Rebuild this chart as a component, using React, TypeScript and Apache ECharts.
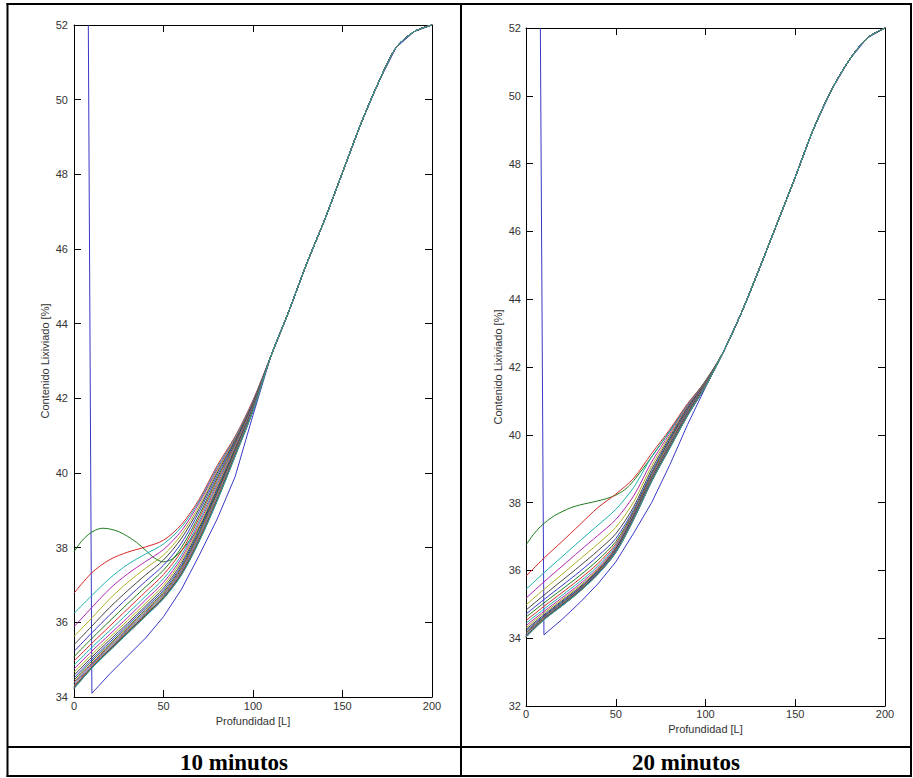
import React, { useEffect, useRef } from "react";
import * as echarts from "echarts";

// ---------- data ----------
const X_GRID = [0, 10, 20, 30, 40, 50, 60, 70, 80, 90, 100];
const TAIL_X = [110, 120, 130, 140, 150, 160, 170, 180, 190, 200];

const CAPTIONS = ["10 minutos", "20 minutos"];
const X_NAME = "Profundidad [L]";
const Y_NAME = "Contenido Lixiviado [%]";

// 10 minutos
const LEFT_TAIL = [43.13, 44.33, 45.61, 46.78, 48.05, 49.32, 50.45, 51.4, 51.82, 52.0];
const LEFT_INITIAL_X = [8, 10, 20, 30, 40, 50, 60, 70, 80, 90, 100];
const LEFT_INITIAL_Y = [52, 34.1, 34.62, 35.1, 35.58, 36.15, 36.88, 37.8, 38.77, 39.9, 41.55];
const LEFT_HUMP_X = [0, 4, 8, 12, 16, 20, 25, 30, 35, 40, 45, 50, 55, 60, 70, 80, 90, 100];
const LEFT_HUMP_Y = [37.89, 38.16, 38.35, 38.47, 38.52, 38.5, 38.43, 38.3, 38.14, 37.93, 37.72, 37.62, 37.7, 37.92, 38.55, 39.5, 40.6, 41.8];
const LEFT_FAMILY = [
  [36.78, 37.33, 37.68, 37.88, 38.02, 38.2, 38.62, 39.3, 40.2, 40.98, 41.95],
  [36.24, 36.72, 37.18, 37.55, 37.83, 38.1, 38.55, 39.25, 40.15, 40.95, 41.93],
  [35.88, 36.4, 36.9, 37.3, 37.63, 37.95, 38.45, 39.2, 40.1, 40.92, 41.92],
  [35.62, 36.12, 36.63, 37.07, 37.45, 37.8, 38.35, 39.12, 40.05, 40.9, 41.9],
  [35.4, 35.9, 36.4, 36.85, 37.27, 37.67, 38.25, 39.05, 40.0, 40.87, 41.88],
  [35.22, 35.72, 36.2, 36.66, 37.1, 37.53, 38.12, 38.97, 39.93, 40.84, 41.86],
  [35.08, 35.57, 36.04, 36.5, 36.95, 37.4, 38.0, 38.88, 39.86, 40.8, 41.84],
  [34.96, 35.44, 35.9, 36.36, 36.82, 37.28, 37.9, 38.8, 39.8, 40.77, 41.82],
  [34.85, 35.33, 35.78, 36.24, 36.7, 37.17, 37.8, 38.72, 39.74, 40.74, 41.8],
  [34.75, 35.23, 35.68, 36.13, 36.6, 37.07, 37.72, 38.65, 39.68, 40.71, 41.78],
  [34.66, 35.14, 35.6, 36.05, 36.51, 36.99, 37.65, 38.58, 39.63, 40.68, 41.76],
  [34.58, 35.07, 35.53, 35.98, 36.44, 36.92, 37.58, 38.52, 39.58, 40.65, 41.75],
  [34.51, 35.01, 35.47, 35.93, 36.39, 36.86, 37.52, 38.46, 39.53, 40.62, 41.74],
  [34.45, 34.96, 35.42, 35.88, 36.34, 36.81, 37.47, 38.41, 39.48, 40.6, 41.73],
  [34.4, 34.91, 35.38, 35.84, 36.3, 36.77, 37.43, 38.36, 39.44, 40.57, 41.72],
  [34.36, 34.88, 35.35, 35.81, 36.27, 36.74, 37.39, 38.32, 39.4, 40.55, 41.71],
  [34.32, 34.85, 35.32, 35.78, 36.24, 36.71, 37.36, 38.28, 39.36, 40.53, 41.7],
  [34.29, 34.82, 35.3, 35.76, 36.22, 36.69, 37.33, 38.25, 39.33, 40.51, 41.69],
  [34.27, 34.8, 35.28, 35.74, 36.2, 36.67, 37.31, 38.22, 39.3, 40.49, 41.68],
  [34.25, 34.79, 35.27, 35.73, 36.19, 36.66, 37.29, 38.2, 39.28, 40.47, 41.67],
  [34.24, 34.78, 35.26, 35.72, 36.18, 36.65, 37.28, 38.19, 39.27, 40.46, 41.67],
  [34.23, 34.78, 35.25, 35.71, 36.17, 36.64, 37.27, 38.18, 39.26, 40.45, 41.66],
  [34.22, 34.77, 35.24, 35.7, 36.16, 36.63, 37.26, 38.17, 39.25, 40.44, 41.66],
];

// 20 minutos
const RIGHT_TAIL = [42.45, 43.6, 44.9, 46.25, 47.6, 49.0, 50.15, 51.05, 51.7, 52.0];
const RIGHT_INITIAL_X = [8, 10, 20, 30, 40, 50, 60, 70, 80, 90, 100];
const RIGHT_INITIAL_Y = [52, 34.1, 34.55, 35.05, 35.6, 36.25, 37.1, 38.0, 39.1, 40.3, 41.4];
const RIGHT_HUMP_X = [0, 4, 8, 12, 16, 20, 25, 30, 35, 40, 45, 50, 55, 60, 70, 80, 90, 100];
const RIGHT_HUMP_Y = [36.75, 37.05, 37.29, 37.47, 37.62, 37.73, 37.85, 37.93, 37.99, 38.05, 38.12, 38.22, 38.38, 38.65, 39.35, 40.1, 40.88, 41.6];
const RIGHT_FAMILY = [
  [35.83, 36.36, 36.85, 37.35, 37.85, 38.25, 38.72, 39.45, 40.15, 40.92, 41.58],
  [35.44, 35.93, 36.4, 36.87, 37.33, 37.8, 38.45, 39.35, 40.1, 40.88, 41.57],
  [35.18, 35.66, 36.12, 36.58, 37.03, 37.5, 38.2, 39.2, 40.03, 40.85, 41.56],
  [34.98, 35.44, 35.88, 36.33, 36.78, 37.27, 38.02, 39.08, 39.97, 40.82, 41.55],
  [34.83, 35.27, 35.7, 36.13, 36.58, 37.08, 37.88, 38.98, 39.92, 40.8, 41.54],
  [34.71, 35.14, 35.55, 35.97, 36.42, 36.94, 37.8, 38.9, 39.87, 40.77, 41.53],
  [34.62, 35.04, 35.44, 35.85, 36.3, 36.85, 37.74, 38.85, 39.83, 40.74, 41.52],
  [34.52, 34.94, 35.34, 35.75, 36.2, 36.78, 37.7, 38.8, 39.79, 40.72, 41.51],
  [34.44, 34.86, 35.26, 35.67, 36.13, 36.73, 37.67, 38.77, 39.76, 40.7, 41.5],
  [34.37, 34.79, 35.19, 35.6, 36.07, 36.69, 37.65, 38.75, 39.73, 40.68, 41.49],
  [34.31, 34.74, 35.14, 35.55, 36.03, 36.66, 37.63, 38.73, 39.71, 40.66, 41.48],
  [34.26, 34.69, 35.1, 35.51, 36.0, 36.64, 37.62, 38.72, 39.69, 40.65, 41.47],
  [34.21, 34.66, 35.07, 35.48, 35.98, 36.62, 37.6, 38.71, 39.68, 40.63, 41.46],
  [34.17, 34.63, 35.04, 35.46, 35.96, 36.6, 37.58, 38.7, 39.67, 40.62, 41.46],
  [34.14, 34.61, 35.02, 35.45, 35.95, 36.59, 37.57, 38.69, 39.66, 40.61, 41.45],
  [34.11, 34.6, 35.01, 35.44, 35.94, 36.58, 37.56, 38.68, 39.65, 40.6, 41.45],
  [34.08, 34.59, 35.0, 35.43, 35.93, 36.57, 37.55, 38.67, 39.64, 40.6, 41.44],
  [34.06, 34.58, 34.99, 35.42, 35.92, 36.56, 37.54, 38.66, 39.63, 40.59, 41.44],
  [34.05, 34.57, 34.98, 35.41, 35.91, 36.55, 37.53, 38.65, 39.62, 40.58, 41.43],
  [34.04, 34.56, 34.97, 35.4, 35.9, 36.54, 37.52, 38.64, 39.61, 40.57, 41.43],
  [34.04, 34.55, 34.96, 35.39, 35.89, 36.53, 37.51, 38.63, 39.6, 40.57, 41.42],
  [34.03, 34.55, 34.95, 35.38, 35.88, 36.52, 37.5, 38.62, 39.6, 40.56, 41.42],
  [34.03, 34.54, 34.95, 35.38, 35.88, 36.52, 37.5, 38.62, 39.59, 40.56, 41.42],
];

// MATLAB-like colour order
const LINE_COLORS = ["#3838c8", "#1c7c1c", "#d82828", "#1cb0b0", "#b024b0", "#b0b024", "#444444"];

// ---------- helpers ----------
const FONT = '"Liberation Sans", Arial, sans-serif';
const LABEL_COLOR = "#333333";

function pairs(xs: number[], ys: number[]) {
  return xs.map((x, i) => [x, ys[i]]);
}

function buildSeries(
  initX: number[], initY: number[],
  humpX: number[], humpY: number[],
  family: number[][], tail: number[], axis: number
) {
  const tailPts = pairs(TAIL_X, tail);
  const base = {
    type: "line",
    xAxisIndex: axis,
    yAxisIndex: axis,
    symbol: "none",
    silent: true,
    animation: false,
    clip: true,
  };
  const out: any[] = [];
  out.push({
    ...base,
    data: [...pairs(initX, initY), ...tailPts],
    smooth: false,
    lineStyle: { width: 1, color: LINE_COLORS[0] },
  });
  out.push({
    ...base,
    data: [...pairs(humpX, humpY), ...tailPts],
    smooth: 0.3,
    lineStyle: { width: 1, color: LINE_COLORS[1] },
  });
  family.forEach((row, k) => {
    out.push({
      ...base,
      data: [...pairs(X_GRID, row), ...tailPts],
      smooth: 0.3,
      lineStyle: { width: 1, color: LINE_COLORS[(k + 2) % LINE_COLORS.length] },
    });
  });
  return out;
}

function xAxis(grid: number, position: string, main: boolean, labelMargin: number, nameGap: number) {
  return {
    type: "value",
    gridIndex: grid,
    position,
    min: 0,
    max: 200,
    interval: 50,
    axisLine: { show: true, onZero: false, lineStyle: { color: "#000", width: 1 } },
    axisTick: { show: true, inside: true, length: 7, lineStyle: { color: "#000", width: 1 } },
    axisLabel: {
      show: main,
      margin: labelMargin,
      color: LABEL_COLOR,
      fontSize: 11,
      fontFamily: FONT,
      showMinLabel: true,
      showMaxLabel: true,
    },
    splitLine: { show: false },
    name: main ? X_NAME : "",
    nameLocation: "middle",
    nameGap,
    nameTextStyle: { color: LABEL_COLOR, fontSize: 11, fontFamily: FONT },
  };
}

function yAxis(grid: number, position: string, main: boolean, min: number, labelMargin: number, nameGap: number) {
  return {
    type: "value",
    gridIndex: grid,
    position,
    min,
    max: 52,
    interval: 2,
    axisLine: { show: true, onZero: false, lineStyle: { color: "#000", width: 1 } },
    axisTick: { show: true, inside: true, length: 7, lineStyle: { color: "#000", width: 1 } },
    axisLabel: {
      show: main,
      margin: labelMargin,
      color: LABEL_COLOR,
      fontSize: 11,
      fontFamily: FONT,
      showMinLabel: true,
      showMaxLabel: true,
    },
    splitLine: { show: false },
    name: main ? Y_NAME : "",
    nameLocation: "middle",
    nameGap,
    nameTextStyle: { color: LABEL_COLOR, fontSize: 11, fontFamily: FONT },
  };
}

function border(x1: number, y1: number, x2: number, y2: number) {
  return {
    type: "line",
    silent: true,
    z: 100,
    shape: { x1, y1, x2, y2 },
    style: { stroke: "#000", lineWidth: 2 },
  };
}

function caption(text: string, x: number, y: number) {
  return {
    type: "text",
    silent: true,
    z: 100,
    x,
    y,
    style: {
      text,
      fill: "#000",
      font: 'bold 23px "Liberation Serif", "Times New Roman", serif',
      align: "center",
      verticalAlign: "middle",
      textAlign: "center",
      textVerticalAlign: "middle",
    },
  };
}

export default function App() {
  const ref = useRef<HTMLDivElement>(null);

  useEffect(() => {
    if (!ref.current) return;
    const chart = echarts.init(ref.current, null, { renderer: "svg" });
    const option: any = {
      animation: false,
      backgroundColor: "#ffffff",
      grid: [
        { left: 74, top: 25, width: 358, height: 672, containLabel: false },
        { left: 526, top: 28, width: 359, height: 678, containLabel: false },
      ],
      xAxis: [
        xAxis(0, "bottom", true, 3, 17),
        xAxis(0, "top", false, 3, 10),
        xAxis(1, "bottom", true, 2, 11),
        xAxis(1, "top", false, 3, 10),
      ],
      yAxis: [
        yAxis(0, "left", true, 34, 6, 24),
        yAxis(0, "right", false, 34, 6, 24),
        yAxis(1, "left", true, 32, 5, 23),
        yAxis(1, "right", false, 32, 5, 23),
      ],
      series: [
        ...buildSeries(LEFT_INITIAL_X, LEFT_INITIAL_Y, LEFT_HUMP_X, LEFT_HUMP_Y, LEFT_FAMILY, LEFT_TAIL, 0),
        ...buildSeries(RIGHT_INITIAL_X, RIGHT_INITIAL_Y, RIGHT_HUMP_X, RIGHT_HUMP_Y, RIGHT_FAMILY, RIGHT_TAIL, 2),
      ],
      graphic: [
        border(6.5, 4, 912, 4),
        border(6.5, 776, 912, 776),
        border(7.5, 3, 7.5, 777),
        border(911, 3, 911, 777),
        border(461, 4, 461, 776),
        border(7.5, 747, 911, 747),
        caption(CAPTIONS[0], 234, 762),
        caption(CAPTIONS[1], 686, 762),
      ],
    };
    chart.setOption(option);
    return () => chart.dispose();
  }, []);

  return (
    <div
      ref={ref}
      style={{ position: "absolute", left: 0, top: 0, width: 913, height: 778, background: "#fff" }}
    />
  );
}
